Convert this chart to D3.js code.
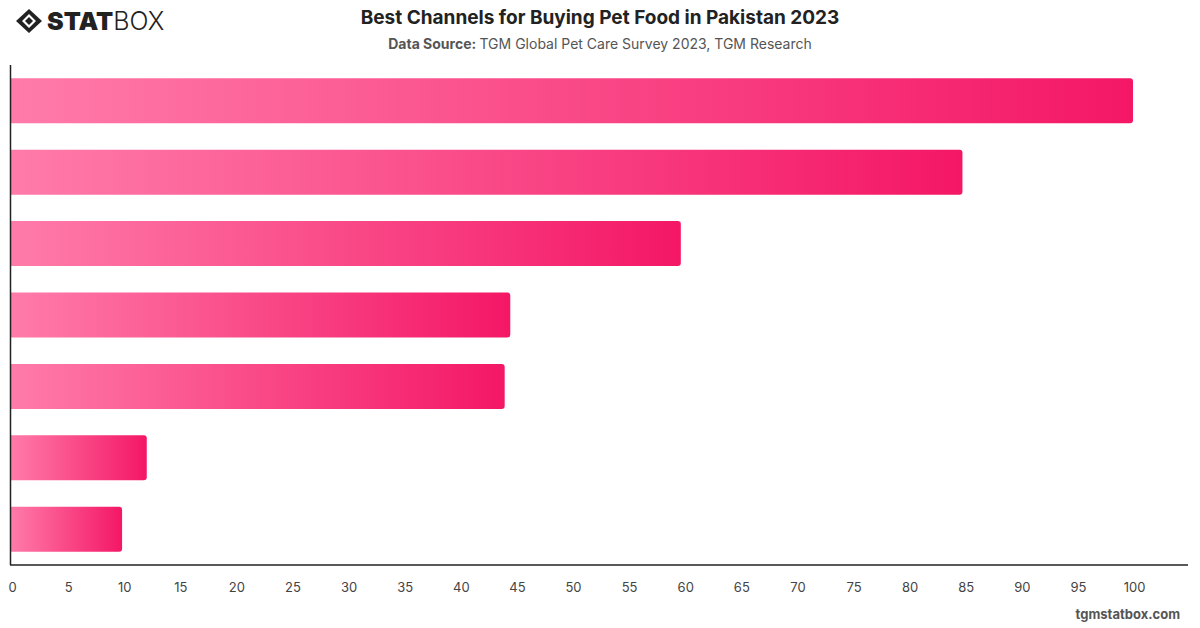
<!DOCTYPE html>
<html>
<head>
<meta charset="utf-8">
<script src="https://cdn.jsdelivr.net/npm/d3@7"></script>
<style>
  body { margin: 0; background: #fff; }
  svg { display: block; font-family: Inter, "Open Sans", sans-serif; }
</style>
</head>
<body>
<svg id="chart" width="1200" height="628"></svg>
<script>
// Data (labels are not shown on the chart)
var channels = ["Channel 1", "Channel 2", "Channel 3", "Channel 4", "Channel 5", "Channel 6", "Channel 7"];
var shares = [100, 84.8, 59.7, 44.5, 44.0, 12.1, 9.9];
var tickValues = [0, 5, 10, 15, 20, 25, 30, 35, 40, 45, 50, 55, 60, 65, 70, 75, 80, 85, 90, 95, 100];

var svg = d3.select("#chart");
var plotLeft = 11, plotTop = 65, plotBottom = 565, plotRight = 1188;

var xScale = d3.scaleLinear()
    .domain([0, 100])
    .range([plotLeft, 1133]);

var yScale = d3.scaleBand()
    .domain(channels)
    .range([plotTop, plotBottom])
    .paddingInner(0.37)
    .paddingOuter(0.185);

// gradient per bar
var defs = svg.append("defs");
var grad = defs.append("linearGradient")
    .attr("id", "barGrad")
    .attr("x1", "0%").attr("x2", "100%")
    .attr("y1", "0%").attr("y2", "0%");
grad.append("stop").attr("offset", "0%").attr("stop-color", "#ff7ba9");
grad.append("stop").attr("offset", "100%").attr("stop-color", "#f41766");

// bars with rounded right end
function barPath(d, i) {
    var x0 = xScale(0), x1 = xScale(d), y0 = yScale(channels[i]), h = yScale.bandwidth(), r = 3;
    return "M" + x0 + "," + y0 + "H" + (x1 - r) + "Q" + x1 + "," + y0 + " " + x1 + "," + (y0 + r) +
        "V" + (y0 + h - r) + "Q" + x1 + "," + (y0 + h) + " " + (x1 - r) + "," + (y0 + h) + "H" + x0 + "Z";
}

svg.append("g").selectAll("path")
    .data(shares)
    .enter()
    .append("path")
    .attr("d", barPath)
    .style("fill", "url(#barGrad)");

// axes
svg.append("line")
    .attr("x1", plotLeft - 0.5).attr("x2", plotLeft - 0.5)
    .attr("y1", plotTop).attr("y2", plotBottom)
    .style("stroke", "#222").style("stroke-width", 1.5);
svg.append("line")
    .attr("x1", plotLeft - 1).attr("x2", plotRight)
    .attr("y1", plotBottom).attr("y2", plotBottom)
    .style("stroke", "#222").style("stroke-width", 1.5);

var xAxis = d3.axisBottom(xScale)
    .tickValues(tickValues)
    .tickSize(0)
    .tickPadding(0);

var gx = svg.append("g")
    .attr("transform", "translate(1," + (plotBottom + 27) + ")")
    .call(xAxis);
gx.select(".domain").remove();
gx.selectAll("text")
    .attr("dy", 0)
    .style("font-family", "Inter, sans-serif")
    .style("font-size", "13px")
    .style("fill", "#444");

// title + subtitle
svg.append("text")
    .attr("x", 600).attr("y", 24)
    .attr("text-anchor", "middle")
    .style("font-size", "19px").style("font-weight", "700").style("fill", "#222")
    .text("Best Channels for Buying Pet Food in Pakistan 2023");

var sub = svg.append("text")
    .attr("x", 600).attr("y", 49)
    .attr("text-anchor", "middle")
    .style("font-size", "14px").style("fill", "#555");
sub.append("tspan").style("font-weight", "700").text("Data Source: ");
sub.append("tspan").text("TGM Global Pet Care Survey 2023, TGM Research");

// footer
svg.append("text")
    .attr("x", 1180).attr("y", 619)
    .attr("text-anchor", "end")
    .style("font-size", "13px").style("font-weight", "700").style("fill", "#555")
    .text("tgmstatbox.com");

// logo
var logo = svg.append("g").attr("transform", "translate(29,21)");
logo.append("path")
    .attr("d", "M0,-12 L13,0 L0,12 L-13,0 Z M0,-7 L-7,0 L0,7 L7,0 Z")
    .attr("fill-rule", "evenodd")
    .style("fill", "#222");
logo.append("path")
    .attr("d", "M0,-4 L4,0 L0,4 L-4,0 Z")
    .style("fill", "#222");
var lt = svg.append("text")
    .attr("x", 47).attr("y", 30)
    .style("font-size", "25px").style("fill", "#222");
lt.append("tspan").style("font-weight", "900").text("STAT");
lt.append("tspan").style("font-weight", "300").text("BOX");
</script>
</body>
</html>
